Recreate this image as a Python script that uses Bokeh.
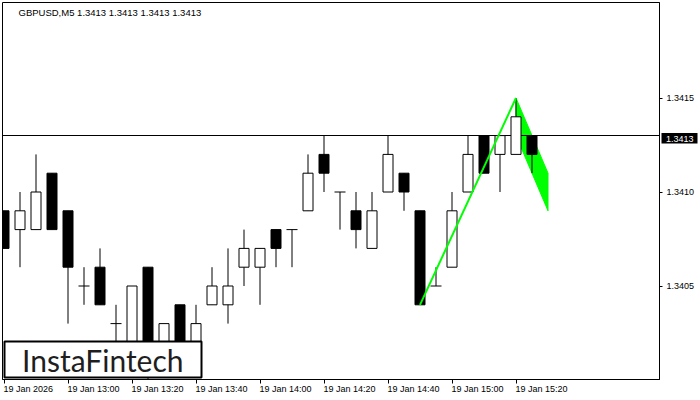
from bokeh.plotting import figure
from bokeh.layouts import row
from bokeh.models import (FixedTicker, LinearAxis, Label, BoxAnnotation, Range1d,
                          PrintfTickFormatter)
from bokeh.embed import file_html
from bokeh.resources import INLINE

# ---------------- data ----------------
symbol = "GBPUSD,M5"
last_ohlc = [1.3413, 1.3413, 1.3413, 1.3413]
current_price = 1.3413

times = ["12:40", "12:45", "12:50", "12:55", "13:00", "13:05", "13:10", "13:15",
         "13:20", "13:25", "13:30", "13:35", "13:40", "13:45", "13:50", "13:55",
         "14:00", "14:05", "14:10", "14:15", "14:20", "14:25", "14:30", "14:35",
         "14:40", "14:45", "14:50", "14:55", "15:00", "15:05", "15:10", "15:15",
         "15:20", "15:25"]
opens = [1.3409, 1.3408, 1.3408, 1.3411, 1.3409, 1.3405, 1.3406, 1.3403,
         1.3402, 1.3406, 1.3401, 1.3404, 1.3402, 1.3404, 1.3404, 1.3406,
         1.3406, 1.3408, 1.3408, 1.3409, 1.3412, 1.3410, 1.3409, 1.3407,
         1.3410, 1.3411, 1.3409, 1.3405, 1.3406, 1.3410, 1.3413, 1.3412,
         1.3412, 1.3413]
highs = [1.3409, 1.3410, 1.3412, 1.3411, 1.3409, 1.3406, 1.3407, 1.3404,
         1.3405, 1.3406, 1.3403, 1.3404, 1.3404, 1.3406, 1.3407, 1.3408,
         1.3407, 1.3408, 1.3408, 1.3412, 1.3413, 1.3410, 1.3410, 1.3410,
         1.3413, 1.3411, 1.3409, 1.3406, 1.3410, 1.3413, 1.3413, 1.3413,
         1.3415, 1.3413]
lows = [1.3407, 1.3406, 1.3408, 1.3408, 1.3403, 1.3404, 1.3404, 1.3401,
        1.3401, 1.3400, 1.3401, 1.3401, 1.3401, 1.3404, 1.3403, 1.3405,
        1.3404, 1.3406, 1.3406, 1.3409, 1.3410, 1.3408, 1.3407, 1.3407,
        1.3410, 1.3409, 1.3404, 1.3405, 1.3406, 1.3410, 1.3411, 1.3410,
        1.3412, 1.3411]
closes = [1.3407, 1.3409, 1.3410, 1.3408, 1.3406, 1.3405, 1.3404, 1.3403,
          1.3405, 1.3401, 1.3403, 1.3402, 1.3403, 1.3405, 1.3405, 1.3407,
          1.3407, 1.3407, 1.3408, 1.3411, 1.3411, 1.3410, 1.3408, 1.3409,
          1.3412, 1.3410, 1.3404, 1.3405, 1.3409, 1.3412, 1.3411, 1.3413,
          1.3414, 1.3412]

time_ticks = ["12:40", "13:00", "13:20", "13:40", "14:00", "14:20", "14:40", "15:00", "15:20"]
time_tick_labels = ["19 Jan 2026", "19 Jan 13:00", "19 Jan 13:20", "19 Jan 13:40",
                    "19 Jan 14:00", "19 Jan 14:20", "19 Jan 14:40", "19 Jan 15:00",
                    "19 Jan 15:20"]
price_ticks = [1.3405, 1.3410, 1.3415]

# bullish flag pattern
pole_times = ["14:50", "15:20"]
pole_prices = [1.3404, 1.3415]
flag_times = ["15:20", "15:30", "15:30", "15:20"]
flag_prices = [1.3415, 1.3411, 1.3409, 1.3413]

logo_text = "InstaFintech"

# ---------------- helpers ----------------
def minutes(t):
    h, m = t.split(":")
    return int(h) * 60 + int(m)

def idx_of(t):
    return (minutes(t) - minutes(times[0])) / 5.0

FONT = "Liberation Sans"
FS = 9  # px
# approximate Liberation Sans advance widths (em) for label width estimation
CW = {" ": 0.278, ":": 0.278, ".": 0.278, "J": 0.5}
def text_w(s):
    return sum(CW.get(c, 0.556) for c in s) * FS

PX_PER_BAR = 16.0
PX_PER_PRICE = 188000.0
FRAME_W, FRAME_H = 657, 377
BORDER_L, BORDER_T, BORDER_R, BORDER_B = 2, 2, 41, 21
FRAME_LEFT_PAGE, FRAME_TOP_PAGE = float(BORDER_L), float(BORDER_T)
X0 = -1.5 / PX_PER_BAR
X1 = X0 + FRAME_W / PX_PER_BAR
Y_TOP = price_ticks[-1] + (97.5 - FRAME_TOP_PAGE) / PX_PER_PRICE
Y_BOT = Y_TOP - FRAME_H / PX_PER_PRICE
BASE_FIX = 0.35  # em, observed baseline shift of Labels

def xd(px):  # page pixel -> data x
    return X0 + (px - FRAME_LEFT_PAGE) / PX_PER_BAR

def yd(py):  # page pixel -> data y
    return Y_TOP - (py - FRAME_TOP_PAGE) / PX_PER_PRICE

P_W = BORDER_L + FRAME_W + BORDER_R
P_H = BORDER_T + FRAME_H + BORDER_B

# ---------------- figure ----------------
p = figure(frame_width=FRAME_W, frame_height=FRAME_H, output_backend="svg",
           toolbar_location=None,
           x_range=Range1d(X0, X1), y_range=Range1d(Y_BOT, Y_TOP),
           x_axis_location=None, y_axis_location=None, title=None,
           min_border_left=BORDER_L, min_border_top=BORDER_T,
           min_border_right=BORDER_R, min_border_bottom=BORDER_B)
p.outline_line_color = "black"
p.outline_line_width = 1
p.background_fill_color = "white"
p.border_fill_color = "white"
p.xgrid.visible = False
p.ygrid.visible = False

# right price axis
yax = LinearAxis(ticker=FixedTicker(ticks=price_ticks),
                 formatter=PrintfTickFormatter(format="%.4f"))
yax.axis_line_color = "black"
yax.major_tick_line_color = "black"
yax.major_tick_out = 3
yax.major_tick_in = 0
yax.minor_tick_out = 0
yax.minor_tick_in = 0
yax.major_label_standoff = 4
yax.major_label_text_font = FONT
yax.major_label_text_font_size = f"{FS}px"
yax.major_label_text_color = "black"
p.add_layout(yax, "right")

# bottom time axis: minor ticks mark the times, labels start at the tick (left aligned)
tick_idx = [idx_of(t) for t in time_ticks]
label_pos = [t + (text_w(s) / 2.0 - 0.5) / PX_PER_BAR for t, s in zip(tick_idx, time_tick_labels)]
xax = LinearAxis(ticker=FixedTicker(ticks=label_pos, minor_ticks=tick_idx),
                 major_label_overrides={lp: s for lp, s in zip(label_pos, time_tick_labels)})
xax.axis_line_color = "black"
xax.major_tick_line_color = None
xax.major_tick_out = 0
xax.major_tick_in = 0
xax.minor_tick_line_color = "black"
xax.minor_tick_out = 4
xax.minor_tick_in = 0
xax.major_label_standoff = 0
xax.major_label_text_font = FONT
xax.major_label_text_font_size = f"{FS}px"
xax.major_label_text_color = "black"
p.add_layout(xax, "below")

# flag (under everything)
p.patch([idx_of(t) for t in flag_times], flag_prices,
        fill_color="#00ff00", line_color="#00ff00", line_width=1)

# current price line
p.hspan(y=[current_price], line_color="black", line_width=1)

# candles
x = [idx_of(t) for t in times]
body_w = 10 / PX_PER_BAR
p.segment(x0=x, y0=lows, x1=x, y1=highs, line_color="black", line_width=1)

up = [i for i in range(len(x)) if closes[i] > opens[i]]
dn = [i for i in range(len(x)) if closes[i] < opens[i]]
dj = [i for i in range(len(x)) if closes[i] == opens[i]]

p.vbar(x=[x[i] for i in up], width=body_w, top=[closes[i] for i in up],
       bottom=[opens[i] for i in up], fill_color="white", line_color="black", line_width=1)
p.vbar(x=[x[i] for i in dn], width=body_w, top=[opens[i] for i in dn],
       bottom=[closes[i] for i in dn], fill_color="black", line_color="black", line_width=1)
half = 5.5 / PX_PER_BAR
p.segment(x0=[x[i] - half for i in dj], y0=[closes[i] for i in dj],
          x1=[x[i] + half for i in dj], y1=[closes[i] for i in dj],
          line_color="black", line_width=1)

# flag pole
p.line([idx_of(t) for t in pole_times], pole_prices, line_color="#00ff00", line_width=2)

# header text
header = symbol + "  " + " ".join(f"{v:.4f}" for v in last_ohlc)
HFS = 9.5
p.add_layout(Label(x=xd(18), y=yd(15 - BASE_FIX * HFS), text=header, text_align="left",
                   text_baseline="alphabetic", text_font=FONT,
                   text_font_size=f"{HFS}px", text_color="black"))

# logo
LFS = 30
p.add_layout(BoxAnnotation(left=xd(4), right=xd(201), top=yd(341), bottom=yd(377),
                           fill_color="white", fill_alpha=1.0,
                           line_color="black", line_width=2, line_alpha=1.0))
p.add_layout(Label(x=xd(21.5), y=yd(369.5 - BASE_FIX * LFS), text=logo_text, text_align="left",
                   text_baseline="alphabetic", text_font="Lato",
                   text_font_size=f"{LFS}px", text_color="#1e1e1e"))

# current price tag: transparent overlay panel covering the price-axis strip
OV_LEFT = P_W - BORDER_R
ov = figure(frame_width=BORDER_R, frame_height=P_H, output_backend="svg", toolbar_location=None,
            x_range=Range1d(OV_LEFT, P_W), y_range=Range1d(P_H, 0),
            x_axis_location=None, y_axis_location=None, title=None,
            min_border_left=0, min_border_right=0, min_border_top=0, min_border_bottom=0,
            styles={"margin-left": f"-{BORDER_R}px"})
ov.outline_line_color = None
ov.background_fill_alpha = 0
ov.border_fill_alpha = 0
ov.xgrid.visible = False
ov.ygrid.visible = False
TAG_LEFT, TAG_RIGHT, TAG_TOP, TAG_BOTTOM = 661, 697, 130.5, 141
ov.quad(left=[TAG_LEFT], right=[TAG_RIGHT], top=[TAG_TOP], bottom=[TAG_BOTTOM],
        fill_color="black", line_color=None)
ov.add_layout(Label(x=665.5, y=139.3 - BASE_FIX * FS, text=f"{current_price:.4f}",
                    text_align="left", text_baseline="alphabetic",
                    text_font=FONT, text_font_size=f"{FS}px", text_color="white"))

layout = row(p, ov)
open("out.html", "w").write(file_html(layout, INLINE))
